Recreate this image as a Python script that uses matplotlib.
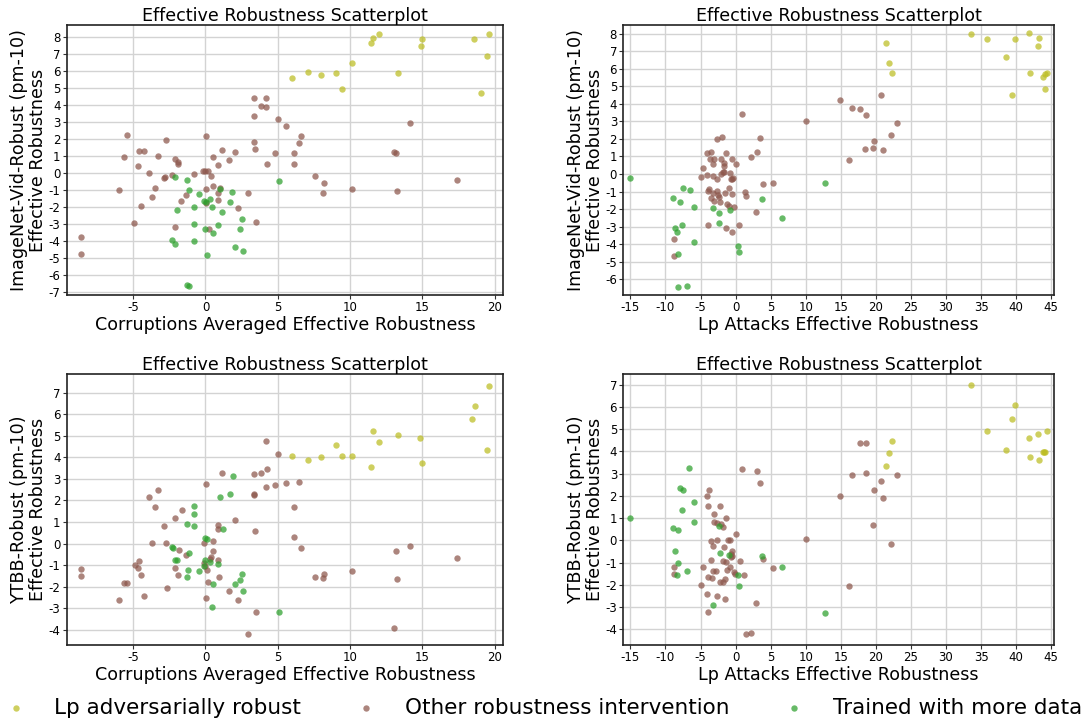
import matplotlib
matplotlib.use("Agg")
import matplotlib.pyplot as plt

plt.rcParams['axes.unicode_minus'] = False

LABELS = ['Lp adversarially robust', 'Other robustness intervention', 'Trained with more data']
COLORS = ['#bcbd22', '#8c564b', '#2ca02c']

# top left: corruptions ER vs ImageNet-Vid ER
tl_lp_x = [11.6, 12.0, 11.48, 15.0, 14.9, 18.6, 19.6, 19.5, 19.05, 10.16, 13.3, 9.05, 9.42, 8.0, 7.1, 6.0]
tl_lp_y = [7.94, 8.18, 7.65, 7.9, 7.47, 7.9, 8.2, 6.88, 4.67, 6.47, 5.88, 5.88, 4.92, 5.78, 5.92, 5.6]
tl_other_x = [3.35, 4.2, 3.86, 4.16, 3.35, 5.03, 5.54, 14.16, 6.58, 6.44, 3.39, 3.44, 4.78, 6.1, 6.1, 4.23,
              13.02, 13.16, 17.37, 7.57, 8.2, 8.15, 10.14, 13.23, 2.93, 2.26, 3.51, -5.45, -5.6, -4.62,
              -4.25, -4.69, -3.93, -3.28, -2.7, -2.1, -1.87, -1.92, -2.77, -2.89, -2.33, -3.51, -3.72,
              -6.0, -4.48, -4.92, -8.64, -8.64, -2.08, -1.66, -1.36, -0.76, -0.18, -0.02, 0.16, 0.07,
              0.51, 1.13, 2.03, 1.66, 0.88, 0.35, 0.51, 0.05, 1.0, 0.85, 0.9, 0.05, 0.25]
tl_other_y = [4.39, 4.39, 3.94, 3.88, 3.37, 3.18, 2.73, 2.92, 2.18, 1.73, 1.8, 1.37, 1.18, 1.16, 0.53, 0.53,
              1.24, 1.14, -0.45, -0.22, -0.61, -1.22, -0.98, -1.08, -1.18, -2.08, -2.9, 2.2, 0.9, 1.27,
              1.27, 0.39, 0.0, 0.96, 1.94, 0.8, 0.65, 0.51, -0.24, -0.33, -0.14, -0.92, -1.43,
              -1.04, -1.98, -2.96, -3.78, -4.8, -3.22, -1.67, -1.29, -0.08, 0.08, 0.1, 0.08, 2.14,
              0.9, 1.33, 1.2, 0.76, 0.45, -0.22, -0.78, -0.98, -0.88, -1.22, -1.63, -1.8, -3.33]
tl_data_x = [-2.08, -1.29, -1.11, -0.44, -0.07, 0.05, 0.32, 1.0, 1.85, 1.69, 0.46, 1.15, -0.79, -2.0,
             -0.76, 0.0, 0.85, 0.51, 2.56, 2.36, -2.29, -2.1, -0.76, 2.06, 2.59, 0.09, 5.1, -1.29, -1.15]
tl_data_y = [-0.24, -0.41, -1.0, -1.24, -1.67, -1.71, -1.57, -0.96, -1.14, -1.75, -2.0, -2.29, -2.04, -2.18,
             -3.04, -3.29, -3.08, -3.57, -2.71, -3.31, -3.98, -4.2, -4.0, -4.35, -4.59, -4.84, -0.51, -6.63, -6.69]

# top right: Lp attacks ER vs ImageNet-Vid ER
tr_lp_x = [33.5, 35.8, 41.85, 43.2, 43.1, 39.8, 38.6, 42.0, 44.4, 44.1, 43.8, 44.1, 39.4, 21.4, 21.9, 22.3]
tr_lp_y = [7.96, 7.7, 8.02, 7.75, 7.3, 7.7, 6.67, 5.77, 5.79, 5.68, 5.56, 4.86, 4.48, 7.49, 6.32, 5.79]
tr_other_x = [14.87, 16.58, 17.72, 18.57, 20.76, 22.95, 22.14, 19.67, 19.62, 18.48, 20.95, 16.15, 10.02,
              0.95, 3.42, 3.0, 2.19, 5.27, 3.85, 2.9, 0.52, -2.66, -1.9, -4.09, -3.56, -3.7, -3.04, -3.28,
              -2.14, -1.66, -1.71, -1.33, -0.57, 0.1, -4.66, -4.89, -4.13, -3.28, -2.61, -2.04, -1.85,
              -1.66, -0.81, -0.48, -0.71, -0.33, -3.85, -3.9, -2.61, -1.52, -0.95, -0.48, 1.28, 1.47,
              -3.28, -3.56, -3.04, -2.57, -2.42, -2.23, -1.24, -0.95, -0.29, -3.9, -1.43, -0.52, -8.74, -8.74]
tr_other_y = [4.21, 3.75, 3.7, 3.37, 4.48, 2.9, 2.21, 1.87, 1.5, 1.41, 1.35, 0.78, 3.01,
              3.45, 2.06, 1.28, 0.99, -0.51, -0.55, -2.15, -2.88, 1.98, 2.13, 1.22, 1.24, 0.86, 0.86, 0.55,
              0.84, 0.61, 0.46, 1.18, 0.86, 0.57, 0.36, -0.17, -0.04, -0.1, -0.3, 0.0, 0.11,
              0.1, 0.06, -0.29, -0.3, -0.21, -0.88, -0.97, -0.97, -1.07, -0.82, -1.16, -1.01, -1.26,
              -1.1, -1.37, -1.54, -1.2, -1.3, -1.58, -1.7, -1.85, -1.89, -2.9, -3.09, -3.33, -3.68, -4.67]
tr_data_x = [-15.06, -8.98, -7.89, -7.46, -6.56, -5.89, -8.69, -8.41, -7.7, -5.94, -8.27, -8.17, -6.89,
             -3.18, -2.38, -2.33, -0.86, 0.33, 0.43, 3.75, 6.65, 12.78]
tr_data_y = [-0.25, -1.39, -1.58, -0.82, -0.93, -1.9, -3.07, -3.31, -2.88, -3.87, -4.57, -6.44, -6.4,
             -1.96, -2.25, -2.82, -2.04, -4.1, -4.42, -1.43, -2.53, -0.53]

# bottom left: corruptions ER vs YTBB ER
bl_lp_x = [19.58, 18.64, 18.43, 19.5, 11.62, 12.0, 13.33, 14.87, 15.0, 11.48, 9.05, 9.42, 10.16, 7.99, 7.09, 6.0]
bl_lp_y = [7.33, 6.36, 5.76, 4.32, 5.22, 4.71, 5.03, 4.91, 3.75, 3.55, 4.58, 4.07, 4.07, 4.01, 3.89, 4.04]
bl_other_x = [4.16, 5.03, 4.25, 3.86, 3.35, 1.15, 5.54, 6.44, 4.78, 4.2, 0.07, 3.35, 3.37, 6.12, 2.03, 3.44,
              6.1, 6.58, 13.16, 14.16, 17.37, 10.14, 8.2, 8.15, 7.57, 13.23, 13.02, 2.93, 3.51, 2.26,
              1.66, 0.07, 0.16, 0.97, 0.85, 0.35, 0.28, 0.51, 0.53, -0.12, 0.88, 0.88, -0.07, 0.09,
              -0.05, -3.28, -3.9, -3.49, -1.64, -2.08, -2.86, -3.72, -2.7, -1.85, -1.36, -4.62, -4.9,
              -4.69, -4.46, -2.08, -1.92, -8.64, -8.64, -5.6, -5.45, -2.68, -4.25, -6.0]
bl_other_y = [4.74, 4.17, 3.44, 3.29, 3.24, 3.27, 2.79, 2.84, 2.72, 2.64, 2.76, 2.31, 2.24, 1.68, 1.08, 0.59,
              0.29, -0.22, -0.34, -0.12, -0.68, -1.25, -1.4, -1.6, -1.54, -1.64, -3.89, -4.18, -3.18, -2.62,
              -2.21, -2.53, -1.77, -1.57, -0.76, -0.6, -0.71, -0.35, 0.12, 0.05, 0.85, 0.68, -0.88, -1.22,
              -1.06, 2.5, 2.18, 1.71, 1.54, 1.2, 0.82, 0.02, 0.05, -0.29, -0.52, -0.82, -0.99,
              -1.14, -1.45, -1.13, -1.44, -1.17, -1.51, -1.84, -1.84, -2.04, -2.41, -2.62]
bl_data_x = [1.87, 0.99, 1.69, -0.79, -0.76, -1.29, -0.76, 1.18, -0.05, 0.09, -2.29, -2.24, -1.11, -2.08,
             -2.0, 0.0, 0.32, 0.85, -0.12, -0.44, -1.18, -1.29, 2.56, 2.36, 2.06, 0.51, 2.59, 0.46, 5.1]
bl_data_y = [3.15, 2.16, 2.28, 1.73, 1.36, 0.9, 0.8, 0.69, 0.28, 0.2, -0.17, -0.22, -0.43, -0.76,
             -0.76, -0.76, -0.85, -0.96, -1.06, -1.27, -1.23, -1.54, -1.4, -1.71, -1.88, -1.87, -2.21, -2.92, -3.18]

# bottom right: Lp attacks ER vs YTBB ER
br_lp_x = [33.5, 39.8, 39.4, 35.8, 44.4, 41.85, 43.1, 38.6, 42.0, 43.2, 43.8, 44.1, 44.0, 22.3, 21.9, 21.4]
br_lp_y = [6.97, 6.1, 5.44, 4.93, 4.9, 4.59, 4.77, 4.05, 3.76, 3.63, 3.97, 3.99, 3.96, 4.47, 3.93, 3.36]
br_other_x = [17.77, 18.57, 16.58, 18.53, 22.95, 20.76, 19.67, 20.95, 14.87, 19.62, 22.14, 16.15, 10.02,
              0.95, 3.0, 3.42, 5.27, 3.85, 2.9, 1.47, 2.19, -3.75, -4.09, -3.94, -2.19, -3.04, -1.38,
              -3.04, -2.61, -2.04, -1.76, 0.1, -3.52, -2.66, -0.86, -1.05, -3.23, -1.62, -0.57, -0.67,
              -0.48, -0.71, -3.56, -1.85, -1.38, 0.57, -0.86, -0.29, -0.05, -1.24, 1.24, -4.7, -3.28,
              -2.8, -3.9, -3.33, -1.52, -2.19, -1.85, -4.89, -4.09, -2.66, -1.47, -3.9, -8.74, -8.74]
br_other_y = [4.38, 4.39, 2.94, 3.01, 2.94, 2.67, 2.26, 1.9, 1.99, 0.7, -0.16, -2.07, 0.06,
              3.21, 3.1, 2.59, -1.24, -0.82, -2.79, -4.21, -4.17, 2.28, 1.99, 1.53, 1.53, 1.2, 1.03,
              0.85, 0.78, 0.75, 0.6, 0.28, -0.04, 0.0, 0.02, 0.0, -0.27, -0.31, -0.46, -0.6,
              -0.69, -0.76, -0.88, -0.91, -0.97, -0.91, -1.18, -1.41, -1.51, -1.35, -1.54, -1.18, -1.38,
              -1.38, -1.63, -1.69, -1.74, -1.89, -1.89, -2.02, -2.4, -2.52, -2.65, -3.21, -1.2, -1.5]
br_data_x = [-15.06, -6.6, -7.89, -7.46, -5.89, -7.7, -5.94, -8.98, -8.22, -8.69, -8.17, -8.41, -6.89,
             -2.33, -2.28, -0.9, 3.75, 0.33, 0.43, -3.18, 6.65, 12.78]
br_data_y = [1.02, 3.24, 2.38, 2.26, 1.71, 1.39, 0.82, 0.57, 0.49, -0.48, -1.02, -1.54, -1.36,
             0.63, -0.58, -0.64, -0.69, -1.54, -2.07, -2.88, -1.21, -3.24]

XLABEL_CORR = 'Corruptions Averaged Effective Robustness'
XLABEL_LP = 'Lp Attacks Effective Robustness'
YLABEL_VID = 'ImageNet-Vid-Robust (pm-10)\nEffective Robustness'
YLABEL_YTBB = 'YTBB-Robust (pm-10)\nEffective Robustness'

panels = [
    ([0.0612, 0.592, 0.401, 0.3734], (tl_lp_x, tl_lp_y), (tl_other_x, tl_other_y), (tl_data_x, tl_data_y),
     XLABEL_CORR, YLABEL_VID, (-9.6, 20.6), (-7.2, 8.7), range(-5, 21, 5), range(-7, 9)),
    ([0.5724, 0.592, 0.3955, 0.3734], (tr_lp_x, tr_lp_y), (tr_other_x, tr_other_y), (tr_data_x, tr_data_y),
     XLABEL_LP, YLABEL_VID, (-16.0, 45.4), (-6.9, 8.5), range(-15, 46, 5), range(-6, 9)),
    ([0.0612, 0.1079, 0.401, 0.3744], (bl_lp_x, bl_lp_y), (bl_other_x, bl_other_y), (bl_data_x, bl_data_y),
     XLABEL_CORR, YLABEL_YTBB, (-9.6, 20.6), (-4.7, 7.85), range(-5, 21, 5), range(-4, 8)),
    ([0.5724, 0.1079, 0.3955, 0.3744], (br_lp_x, br_lp_y), (br_other_x, br_other_y), (br_data_x, br_data_y),
     XLABEL_LP, YLABEL_YTBB, (-16.0, 45.4), (-4.7, 7.47), range(-15, 46, 5), range(-4, 8)),
]

fig = plt.figure(figsize=(10.89, 7.23), dpi=100)
handles = []
for i, (rect, lp, other, data, xl, yl, xlim, ylim, xt, yt) in enumerate(panels):
    ax = fig.add_axes(rect)
    ax.set_axisbelow(True)
    ax.grid(True, color='#d3d3d3', linewidth=1.0)
    for (xs, ys), c, lab in zip([lp, other, data], COLORS, LABELS):
        h = ax.scatter(xs, ys, s=21, color=c, alpha=0.72, linewidths=0, label=lab)
        if i == 0:
            handles.append(h)
    ax.set_xlim(*xlim)
    ax.set_ylim(*ylim)
    ax.set_xticks(list(xt))
    ax.set_yticks(list(yt))
    ax.tick_params(labelsize=8.5, length=3, pad=1.5, color='#333333')
    ax.set_title('Effective Robustness Scatterplot', fontsize=12.6, pad=2)
    ax.set_xlabel(xl, fontsize=12.6, labelpad=1)
    ax.set_ylabel(yl, fontsize=12.6, labelpad=1, linespacing=1.05)
    for sp in ax.spines.values():
        sp.set_color('#222222')
        sp.set_linewidth(1.2)

fig.legend(handles, LABELS, loc='center', bbox_to_anchor=(0.494, 1 - 708 / 723), ncol=3, frameon=False,
           fontsize=15.5, columnspacing=2.0, handletextpad=0.8, borderaxespad=0)

fig.savefig('out.png', dpi=100)
